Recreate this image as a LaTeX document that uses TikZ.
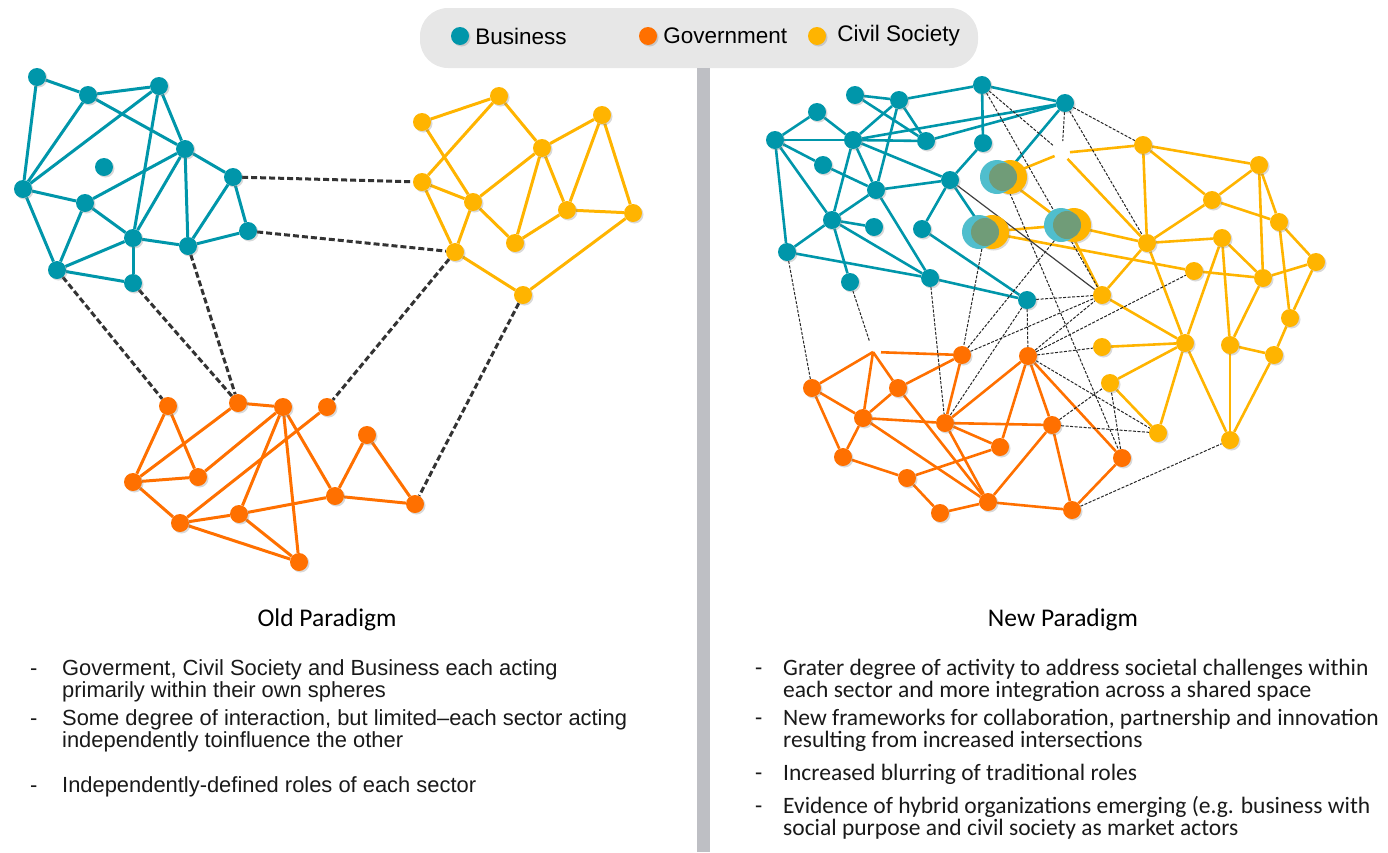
\documentclass[tikz,border=0pt]{standalone}
\usepackage{fontspec}
\setmainfont{Liberation Sans}
\newfontfamily\calibri{Carlito}
\usepackage{tikz}
\usetikzlibrary{positioning,shadows,backgrounds}

\definecolor{biz}{RGB}{0,150,170}
\definecolor{gov}{RGB}{255,112,0}
\definecolor{civ}{RGB}{255,180,0}
\definecolor{hyteal}{RGB}{80,190,205}
\definecolor{hygreen}{RGB}{112,156,120}
\definecolor{keygray}{RGB}{231,231,231}
\definecolor{bargray}{RGB}{190,191,196}

% hybrid actor: business and civil society overlapping
\newcommand{\hybridactor}[3]{%
  \node[circle, inner sep=0pt, minimum size=34pt] (#1) at (#2,#3) {};
  \fill[civ, drop shadow={shadow xshift=1.5pt, shadow yshift=-1.5pt, opacity=0.3}] (#2+7,#3) circle (17);
  \fill[hyteal] (#2-6,#3) circle (17);
  \fill[hygreen] (#2,#3) circle (14);}

\begin{document}
\begin{tikzpicture}[x=1pt, y=-1pt, every node/.style={font=\fontsize{21.9}{25}\selectfont}]
  \tikzstyle{actor} = [circle, inner sep=0pt, minimum size=18pt, drop shadow={shadow xshift=1.5pt, shadow yshift=-1.5pt, opacity=0.3}]
  \tikzstyle{bnode} = [actor, fill=biz]
  \tikzstyle{gnode} = [actor, fill=gov]
  \tikzstyle{cnode} = [actor, fill=civ]
  \tikzstyle{bline} = [draw=biz, line width=3pt]
  \tikzstyle{gline} = [draw=gov, line width=3pt]
  \tikzstyle{cline} = [draw=civ, line width=3pt]
  \tikzstyle{rbline} = [draw=biz, line width=2.6pt]
  \tikzstyle{rgline} = [draw=gov, line width=2.6pt]
  \tikzstyle{rcline} = [draw=civ, line width=2.6pt]
  \tikzstyle{link} = [draw=black!80, line width=3pt, dash pattern=on 6pt off 3pt]
  \tikzstyle{thinlink} = [draw=black!85, line width=1pt, dash pattern=on 3pt off 1.5pt]
  \tikzstyle{darklink} = [draw=black!75, line width=1.2pt]
  \tikzstyle{keytext} = [inner sep=0pt, font=\fontsize{22.5}{26}\selectfont]
  \tikzstyle{bullet} = [anchor=base west, inner sep=0pt, text=black!90]
  \tikzstyle{newbullet} = [bullet, font=\calibri\fontsize{23.5}{28}\selectfont]
  \tikzstyle{caption} = [font=\calibri\fontsize{25.5}{30}\selectfont]

  \useasboundingbox (0,0) rectangle (1388,852);

  % Legend
  \node[fill=keygray, rounded corners=28pt, minimum width=558pt, minimum height=60pt, inner sep=0pt] (legend) at (699,38) {};
  \node[bnode] (keybiz) at (460,36) {};
  \node[keytext, right=6pt of keybiz] (keybiztext) {Business};
  \node[gnode] (keygov) at (648,36) {};
  \node[keytext, right=6pt of keygov] (keygovtext) {Government};
  \node[cnode] (keyciv) at (817,36) {};
  \node[keytext, right=11pt of keyciv] (keycivtext) {Civil Society};

  % Divider
  \fill[bargray] (697,68) rectangle (710,852);

  % Old paradigm: business
  \node[bnode] (b1) at (37,77) {};
  \node[bnode] (b2) at (88,95) {};
  \node[bnode] (b3) at (159,86) {};
  \node[bnode] (b4) at (185,149) {};
  \node[bnode] (b5) at (104,167) {};
  \node[bnode] (b6) at (23,189) {};
  \node[bnode] (b7) at (85,203) {};
  \node[bnode] (b8) at (233,177) {};
  \node[bnode] (b9) at (133,238) {};
  \node[bnode] (b10) at (188,246) {};
  \node[bnode] (b11) at (248,231) {};
  \node[bnode] (b12) at (57,270) {};
  \node[bnode] (b13) at (133,283) {};

  % Old paradigm: civil society
  \node[cnode] (c1) at (422,122) {};
  \node[cnode] (c2) at (499,96) {};
  \node[cnode] (c3) at (602,115) {};
  \node[cnode] (c4) at (542,148) {};
  \node[cnode] (c5) at (422,182) {};
  \node[cnode] (c6) at (473,202) {};
  \node[cnode] (c7) at (567,210) {};
  \node[cnode] (c8) at (633,213) {};
  \node[cnode] (c9) at (515,243) {};
  \node[cnode] (c10) at (455,252) {};
  \node[cnode] (c11) at (523,295) {};

  % Old paradigm: government
  \node[gnode] (g1) at (168,406) {};
  \node[gnode] (g2) at (238,403) {};
  \node[gnode] (g3) at (283,407) {};
  \node[gnode] (g4) at (327,407) {};
  \node[gnode] (g5) at (367,435) {};
  \node[gnode] (g6) at (133,482) {};
  \node[gnode] (g7) at (198,477) {};
  \node[gnode] (g8) at (335,496) {};
  \node[gnode] (g9) at (415,504) {};
  \node[gnode] (g10) at (180,523) {};
  \node[gnode] (g11) at (239,514) {};
  \node[gnode] (g12) at (299,562) {};

  % New paradigm: business
  \node[bnode] (rb1) at (775,140) {};
  \node[bnode] (rb2) at (817,112) {};
  \node[bnode] (rb3) at (855,95) {};
  \node[bnode] (rb4) at (899,100) {};
  \node[bnode] (rb5) at (982,85) {};
  \node[bnode] (rb6) at (1065,103) {};
  \node[bnode] (rb7) at (853,140) {};
  \node[bnode] (rb8) at (926,141) {};
  \node[bnode] (rb9) at (983,143) {};
  \node[bnode] (rb10) at (823,165) {};
  \node[bnode] (rb11) at (950,180) {};
  \node[bnode] (rb12) at (876,190) {};
  \node[bnode] (rb13) at (832,220) {};
  \node[bnode] (rb14) at (874,227) {};
  \node[bnode] (rb15) at (922,229) {};
  \node[bnode] (rb16) at (787,252) {};
  \node[bnode] (rb17) at (850,282) {};
  \node[bnode] (rb18) at (930,278) {};
  \node[bnode] (rb19) at (1027,300) {};

  % New paradigm: hybrids
  \hybridactor{h1}{1003}{177}
  \hybridactor{h2}{985}{232}
  \hybridactor{h3}{1067}{225}

  % New paradigm: civil society
  \node[cnode] (rc1) at (1143,145) {};
  \node[cnode] (rc2) at (1259,165) {};
  \node[cnode] (rc3) at (1212,200) {};
  \node[cnode] (rc4) at (1279,222) {};
  \node[cnode] (rc5) at (1147,243) {};
  \node[cnode] (rc6) at (1222,238) {};
  \node[cnode] (rc7) at (1316,262) {};
  \node[cnode] (rc8) at (1194,271) {};
  \node[cnode] (rc9) at (1263,278) {};
  \node[cnode] (rc10) at (1102,295) {};
  \node[cnode] (rc11) at (1290,318) {};
  \node[cnode] (rc12) at (1185,343) {};
  \node[cnode] (rc13) at (1230,345) {};
  \node[cnode] (rc14) at (1274,355) {};
  \node[cnode] (rc15) at (1102,347) {};
  \node[cnode] (rc16) at (1110,383) {};
  \node[cnode] (rc17) at (1158,433) {};
  \node[cnode] (rc18) at (1230,440) {};

  % New paradigm: government
  \node[gnode] (rg1) at (812,388) {};
  \node[gnode] (rg2) at (898,388) {};
  \node[gnode] (rg3) at (962,355) {};
  \node[gnode] (rg4) at (1028,356) {};
  \node[gnode] (rg5) at (863,418) {};
  \node[gnode] (rg6) at (945,423) {};
  \node[gnode] (rg7) at (1052,425) {};
  \node[gnode] (rg8) at (1000,447) {};
  \node[gnode] (rg9) at (843,457) {};
  \node[gnode] (rg10) at (907,478) {};
  \node[gnode] (rg11) at (1122,458) {};
  \node[gnode] (rg12) at (988,502) {};
  \node[gnode] (rg13) at (940,513) {};
  \node[gnode] (rg14) at (1072,510) {};

  % Removed actors (open ends)
  \coordinate (gapg) at (873,352);
  \coordinate (gapc) at (1062,153);

  \begin{scope}[on background layer]
    % Old paradigm connections
    \draw[bline] (b1) edge (b2) edge (b6);
    \draw[bline] (b2) edge (b3) edge (b6) edge (b4);
    \draw[bline] (b3) edge (b6) edge (b9) edge (b4);
    \draw[bline] (b4) edge (b7) edge (b9) edge (b10) edge (b8);
    \draw[bline] (b6) edge (b7) edge (b12);
    \draw[bline] (b7) edge (b9) edge (b12);
    \draw[bline] (b9) edge (b12) edge (b10) edge (b13);
    \draw[bline] (b12) edge (b13);
    \draw[bline] (b8) edge (b10) edge (b11);
    \draw[bline] (b10) edge (b11);

    \draw[cline] (c1) edge (c2) edge (c6);
    \draw[cline] (c2) edge (c5) edge (c4);
    \draw[cline] (c4) edge (c3) edge (c6) edge (c9) edge (c7);
    \draw[cline] (c3) edge (c7) edge (c8);
    \draw[cline] (c7) edge (c8) edge (c9);
    \draw[cline] (c6) edge (c9) edge (c10);
    \draw[cline] (c5) edge (c6) edge (c10);
    \draw[cline] (c10) edge (c11);
    \draw[cline] (c11) edge (c8);

    \draw[gline] (g1) edge (g6) edge (g7);
    \draw[gline] (g2) edge (g6) edge (g3);
    \draw[gline] (g3) edge (g7) edge (g11) edge (g12) edge (g8);
    \draw[gline] (g6) edge (g7) edge (g10);
    \draw[gline] (g4) edge (g10);
    \draw[gline] (g10) edge (g11) edge (g12);
    \draw[gline] (g11) edge (g12) edge (g8);
    \draw[gline] (g8) edge (g5) edge (g9);
    \draw[gline] (g5) edge (g9);

    \draw[link] (b8) edge (c5) (b11) edge (c10) (b12) edge (g1) (b13) edge (g2) (b10) edge (g2) (c10) edge (g4) (c11) edge (g9);

    % New paradigm connections
    \draw[rcline] (h1) edge (h3);
    \draw[rcline, shorten >=8pt] (h1) edge (gapc);
    \draw[rcline, shorten <=8pt] (gapc) edge (rc1) edge (rc5);
    \draw[rcline] (h2) edge (h3) edge (rc8);
    \draw[rcline] (h3) edge (rc5) edge (rc10);
    \draw[rcline] (rc1) edge (rc2) edge (rc3) edge (rc5);
    \draw[rcline] (rc2) edge (rc3) edge (rc4) edge (rc9);
    \draw[rcline] (rc3) edge (rc5) edge (rc4);
    \draw[rcline] (rc4) edge (rc7) edge (rc11);
    \draw[rcline] (rc7) edge (rc9) edge (rc11);
    \draw[rcline] (rc8) edge (rc9);
    \draw[rcline] (rc5) edge (rc6) edge (rc10) edge (rc12);
    \draw[rcline] (rc6) edge (rc9) edge (rc12) edge (rc13);
    \draw[rcline] (rc9) edge (rc13);
    \draw[rcline] (rc12) edge (rc10) edge (rc15) edge (rc16) edge (rc17) edge (rc18);
    \draw[rcline] (rc13) edge (rc14) edge (rc18);
    \draw[rcline] (rc14) edge (rc11) edge (rc18);
    \draw[rcline] (rc16) edge (rc17);

    \draw[rbline] (rb1) edge (rb2) edge (rb7) edge (rb16) edge (rb13) edge (rb10);
    \draw[rbline] (rb2) edge (rb7);
    \draw[rbline] (rb3) edge (rb4) edge (rb8);
    \draw[rbline] (rb4) edge (rb5) edge (rb7) edge (rb12) edge (rb8);
    \draw[rbline] (rb5) edge (rb6) edge (rb9);
    \draw[rbline] (rb6) edge (rb7) edge (rb8) edge (h1);
    \draw[rbline] (rb7) edge (rb12) edge (rb13) edge (rb11) edge (rb8);
    \draw[rbline] (rb9) edge (rb11);
    \draw[rbline] (rb10) edge (rb12);
    \draw[rbline] (rb11) edge (rb12) edge (rb15) edge (h2);
    \draw[rbline] (rb12) edge (rb13) edge (rb18);
    \draw[rbline] (rb13) edge (rb16) edge (rb14) edge (rb17) edge (rb18);
    \draw[rbline] (rb15) edge (rb19);
    \draw[rbline] (rb16) edge (rb18);
    \draw[rbline] (rb18) edge (rb19);

    \draw[rgline] (gapg) edge (rg1) edge (rg5) edge (rg2);
    \draw[rgline, shorten <=8pt] (gapg) edge (rg3);
    \draw[rgline] (rg1) edge (rg5) edge (rg9);
    \draw[rgline] (rg2) edge (rg3) edge (rg5) edge (rg12);
    \draw[rgline] (rg3) edge (rg6);
    \draw[rgline] (rg4) edge (rg6) edge (rg8) edge (rg7) edge (rg11);
    \draw[rgline] (rg5) edge (rg6) edge (rg9) edge (rg12);
    \draw[rgline] (rg6) edge (rg7) edge (rg8) edge (rg12);
    \draw[rgline] (rg7) edge (rg12) edge (rg14);
    \draw[rgline] (rg9) edge (rg10);
    \draw[rgline] (rg10) edge (rg8) edge (rg13);
    \draw[rgline] (rg12) edge (rg13) edge (rg14);
    \draw[rgline] (rg14) edge (rg11);

    \draw[thinlink] (rb16) edge (rg1) (rb18) edge (rg6) (rb19) edge (rg4) edge (rg6) edge (rc10);
    \draw[thinlink] (h2) edge (rg3) (h1) edge (rg11) (rg3) edge (h3) edge (rc10);
    \draw[thinlink] (rg4) edge (rc8) edge (rc10) edge (rc15) edge (rc17);
    \draw[thinlink] (rg7) edge (rc16) edge (rc17) (rg11) edge (rc16) (rg14) edge (rc18);
    \draw[thinlink] (rb6) edge (rc1) edge (rc5) (rb5) edge (rc10);
    \draw[thinlink, shorten >=12pt] (rb5) edge (gapc) (rb6) edge (gapc) (rb17) edge (gapg);
    \draw[darklink] (rb11) edge (rc10);
  \end{scope}

  % Captions
  \node[caption] (oldtitle) at (327,620) {Old Paradigm};
  \node[caption] (newtitle) at (1063,620) {New Paradigm};

  \node[bullet] (od1) at (30,675) {-};
  \node[bullet] (ol1) at (62,675) {Goverment, Civil Society and Business each acting};
  \node[bullet] (ol2) at (62,697) {primarily within their own spheres};
  \node[bullet] (od2) at (30,725) {-};
  \node[bullet] (ol3) at (62,725) {Some degree of interaction, but limited--each sector acting};
  \node[bullet] (ol4) at (62,747) {independently toinfluence the other};
  \node[bullet] (od3) at (30,792) {-};
  \node[bullet] (ol5) at (62,792) {Independently-defined roles of each sector};

  \node[newbullet] (nd1) at (755,675) {-};
  \node[newbullet] (nl1) at (783,675) {Grater degree of activity to address societal challenges within};
  \node[newbullet] (nl2) at (783,697) {each sector and more integration across a shared space};
  \node[newbullet] (nd2) at (755,725) {-};
  \node[newbullet] (nl3) at (783,725) {New frameworks for collaboration, partnership and innovation};
  \node[newbullet] (nl4) at (783,747) {resulting from increased intersections};
  \node[newbullet] (nd3) at (755,780) {-};
  \node[newbullet] (nl5) at (783,780) {Increased blurring of traditional roles};
  \node[newbullet] (nd4) at (755,813) {-};
  \node[newbullet] (nl6) at (783,813) {Evidence of hybrid organizations emerging (e.g. business with};
  \node[newbullet] (nl7) at (783,835) {social purpose and civil society as market actors};
\end{tikzpicture}
\end{document}
